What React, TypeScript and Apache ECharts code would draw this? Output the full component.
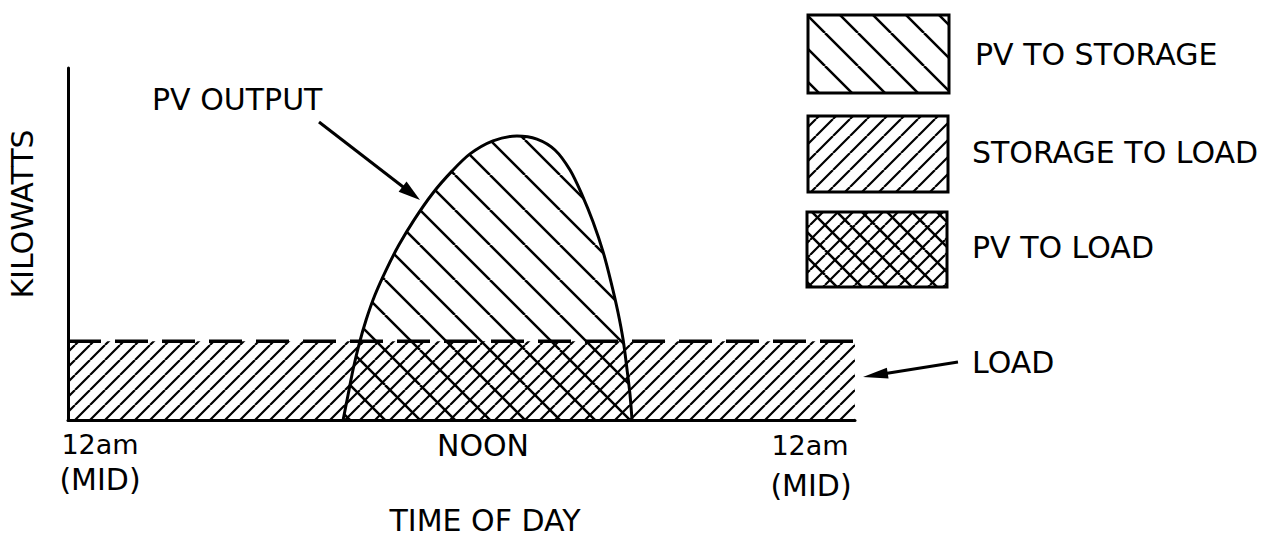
import React, { useEffect, useRef } from "react";
import * as echarts from "echarts";

// ---- data (hours of day on x, relative kilowatts on y) ----
const dayHours = [0, 24];
const kwRange = [0, 100];
const loadHours = [0, 24];
const loadKw = [22.4, 22.4];
const pvHours = [8.39, 8.54, 8.69, 8.87, 9.09, 9.36, 9.7, 10.09, 10.55, 11.13, 11.71, 12.26, 12.96, 13.69, 14.3, 14.85, 15.31, 15.68, 16.01, 16.32, 16.56, 16.77, 16.93, 17.05, 17.14, 17.2];
const pvKw = [0, 7.1, 14.2, 21.3, 28.4, 35.5, 42.6, 49.7, 56.8, 64.5, 70.7, 75.6, 79.3, 80.7, 79.8, 76.7, 71.0, 63.9, 56.3, 47.7, 39.2, 30.7, 22.7, 14.2, 7.1, 0];
const legendLabels = ["PV TO STORAGE", "STORAGE TO LOAD", "PV TO LOAD"];
const xTickLabels = ["12am\n(MID)", "NOON", "12am\n(MID)"];
const xAxisTitle = "TIME OF DAY";
const yAxisTitle = "KILOWATTS";
const pvAnnotation = "PV OUTPUT";
const loadAnnotation = "LOAD";

const FONT = "'DejaVu Sans', sans-serif";

function hatch(size: number, dir: "fwd" | "back", lw: number) {
  let d = "";
  for (let k = -1; k <= 1; k++) {
    if (dir === "fwd") d += `M${k * size},${size} L${k * size + size},0 `;
    else d += `M${k * size},0 L${k * size + size},${size} `;
  }
  const svg = `<svg xmlns='http://www.w3.org/2000/svg' width='${size}' height='${size}' viewBox='0 0 ${size} ${size}'><path d='${d}' stroke='black' stroke-width='${lw}' fill='none'/></svg>`;
  return {
    image: "data:image/svg+xml;charset=utf-8," + encodeURIComponent(svg),
    repeat: "repeat",
    imageWidth: size,
    imageHeight: size,
  } as any;
}

function arrow(x1: number, y1: number, x2: number, y2: number, headLen: number, halfW: number) {
  const dx = x2 - x1, dy = y2 - y1;
  const len = Math.sqrt(dx * dx + dy * dy);
  const ux = dx / len, uy = dy / len;
  const bx = x2 - ux * headLen, by = y2 - uy * headLen;
  const px = -uy * halfW, py = ux * halfW;
  return [
    { type: "line", shape: { x1, y1, x2: bx + ux * 2, y2: by + uy * 2 }, style: { stroke: "#000", lineWidth: 3 } },
    { type: "polygon", shape: { points: [[x2, y2], [bx + px, by + py], [bx - px, by - py]] }, style: { fill: "#000" } },
  ];
}

function txt(text: string, x: number, y: number, align: string = "left", size: number = 30, extra: any = {}) {
  return {
    type: "text",
    x,
    y,
    ...extra,
    style: { text, fill: "#000", font: `${size}px ${FONT}`, align, verticalAlign: "middle" },
  };
}

export default function App() {
  const ref = useRef<HTMLDivElement>(null);
  useEffect(() => {
    if (!ref.current) return;
    const chart = echarts.init(ref.current, null, { renderer: "svg" });
    const loadData = loadHours.map((h, i) => [h, loadKw[i]]);
    const pvData = pvHours.map((h, i) => [h, pvKw[i]]);
    const [tl, tn, tr] = xTickLabels.map((s) => s.split("\n"));
    chart.setOption({
      animation: false,
      backgroundColor: "#fff",
      grid: { left: 68, right: 429, top: 68, bottom: 116 },
      xAxis: {
        type: "value",
        min: dayHours[0],
        max: dayHours[1],
        axisLine: { show: true, onZero: false, lineStyle: { color: "#000", width: 3 } },
        axisTick: { show: false },
        axisLabel: { show: false },
        splitLine: { show: false },
      },
      yAxis: {
        type: "value",
        min: kwRange[0],
        max: kwRange[1],
        axisLine: { show: true, lineStyle: { color: "#000", width: 3 } },
        axisTick: { show: false },
        axisLabel: { show: false },
        splitLine: { show: false },
      },
      series: [
        {
          name: "LOAD",
          type: "line",
          data: loadData,
          symbol: "none",
          lineStyle: { color: "#000", width: 3.5, type: [33, 14] },
          areaStyle: { color: hatch(15, "fwd", 2.2), opacity: 1 },
          z: 2,
        },
        {
          name: "PV OUTPUT",
          type: "line",
          data: pvData,
          symbol: "none",
          smooth: 0.3,
          lineStyle: { color: "#000", width: 3 },
          areaStyle: { color: hatch(35, "back", 2.5), opacity: 1 },
          z: 3,
        },
      ],
      graphic: [
        // legend boxes
        { type: "rect", shape: { x: 808, y: 15, width: 141, height: 78 }, style: { fill: hatch(33, "back", 2.5), stroke: "#000", lineWidth: 3 } },
        { type: "rect", shape: { x: 808, y: 116, width: 140, height: 76 }, style: { fill: hatch(17, "fwd", 2.2), stroke: "#000", lineWidth: 3 } },
        { type: "rect", shape: { x: 807, y: 212, width: 140, height: 75 }, style: { fill: hatch(15, "fwd", 2.2), stroke: "none" } },
        { type: "rect", shape: { x: 807, y: 212, width: 140, height: 75 }, style: { fill: hatch(25, "back", 2.5), stroke: "#000", lineWidth: 3 } },
        txt(legendLabels[0], 975, 54),
        txt(legendLabels[1], 972, 152),
        txt(legendLabels[2], 972, 247),
        txt(loadAnnotation, 972, 362),
        ...arrow(958, 362, 863, 377, 25, 5.5),
        txt(pvAnnotation, 152, 99),
        ...arrow(319, 122, 420, 200, 22, 6.5),
        // x tick labels
        txt(tl[0], 100, 444, "center", 27),
        txt(tl[1], 100, 479, "center"),
        txt(tn[0], 483, 445, "center"),
        txt(tr[0], 810, 445, "center", 27),
        txt(tr[1], 811, 485, "center"),
        txt(xAxisTitle, 485, 520, "center"),
        txt(yAxisTitle, 22, 214, "center", 30, { rotation: Math.PI / 2 }),
      ],
    });
    return () => chart.dispose();
  }, []);
  return (
    <div
      ref={ref}
      style={{ position: "absolute", left: 0, top: 0, width: 1284, height: 536, background: "#fff" }}
    />
  );
}
